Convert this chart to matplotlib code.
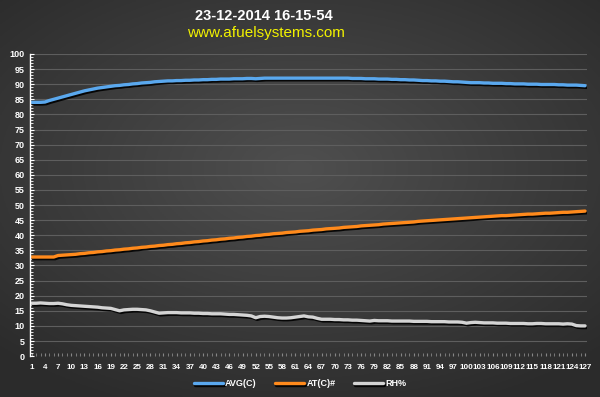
import numpy as np
import matplotlib
matplotlib.use("Agg")
import matplotlib.pyplot as plt
import matplotlib.patheffects as pe
from matplotlib.ticker import MultipleLocator

title_text = "23-12-2014 16-15-54"
subtitle_text = "www.afuelsystems.com"
series_names = ["AVG(C)", "AT(C)#", "RH%"]

avg_c = [84.0, 84.0, 84.0, 84.1, 84.6, 85.0, 85.4, 85.8, 86.2, 86.6,
         87.0, 87.4, 87.8, 88.1, 88.4, 88.7, 88.9, 89.1, 89.3, 89.5,
         89.6, 89.8, 89.9, 90.1, 90.2, 90.4, 90.5, 90.6, 90.8, 90.9,
         91.0, 91.1, 91.1, 91.2, 91.2, 91.3, 91.3, 91.4, 91.4, 91.5,
         91.5, 91.6, 91.6, 91.7, 91.7, 91.7, 91.8, 91.8, 91.8, 91.9,
         91.9, 91.8, 91.9, 92.0, 92.0, 92.0, 92.0, 92.0, 92.0, 92.0,
         92.0, 92.0, 92.0, 92.0, 92.0, 92.0, 92.0, 92.0, 92.0, 92.0,
         92.0, 92.0, 92.0, 91.9, 91.9, 91.9, 91.8, 91.8, 91.8, 91.7,
         91.7, 91.7, 91.6, 91.6, 91.5, 91.5, 91.4, 91.4, 91.3, 91.2,
         91.2, 91.1, 91.1, 91.0, 91.0, 90.9, 90.8, 90.8, 90.7, 90.6,
         90.5, 90.5, 90.5, 90.4, 90.4, 90.3, 90.3, 90.3, 90.2, 90.2,
         90.1, 90.1, 90.1, 90.0, 90.0, 90.0, 89.9, 89.9, 89.9, 89.9,
         89.8, 89.8, 89.7, 89.7, 89.7, 89.6, 89.5]

at_c = [32.8, 32.8, 32.8, 32.8, 32.8, 32.8, 33.3, 33.4, 33.5, 33.6,
        33.7, 33.9, 34.0, 34.2, 34.3, 34.5, 34.6, 34.8, 34.9, 35.1,
        35.2, 35.4, 35.5, 35.7, 35.8, 36.0, 36.1, 36.3, 36.4, 36.6,
        36.7, 36.9, 37.0, 37.2, 37.3, 37.5, 37.6, 37.8, 37.9, 38.1,
        38.2, 38.4, 38.5, 38.7, 38.8, 39.0, 39.1, 39.3, 39.4, 39.6,
        39.7, 39.9, 40.0, 40.2, 40.3, 40.5, 40.6, 40.7, 40.9, 41.0,
        41.1, 41.3, 41.4, 41.5, 41.7, 41.8, 41.9, 42.1, 42.2, 42.3,
        42.4, 42.6, 42.7, 42.8, 42.9, 43.1, 43.2, 43.3, 43.4, 43.5,
        43.7, 43.8, 43.9, 44.0, 44.1, 44.2, 44.3, 44.4, 44.6, 44.7,
        44.8, 44.9, 45.0, 45.1, 45.2, 45.3, 45.4, 45.5, 45.6, 45.7,
        45.8, 45.9, 46.0, 46.1, 46.2, 46.3, 46.4, 46.5, 46.5, 46.6,
        46.7, 46.8, 46.9, 47.0, 47.0, 47.1, 47.2, 47.3, 47.3, 47.4,
        47.5, 47.6, 47.6, 47.7, 47.8, 47.9, 48.0]

rh = [17.5, 17.5, 17.6, 17.5, 17.4, 17.4, 17.5, 17.3, 17.0, 16.8,
      16.7, 16.6, 16.5, 16.4, 16.3, 16.2, 16.0, 15.9, 15.8, 15.4,
      15.0, 15.3, 15.4, 15.5, 15.5, 15.4, 15.3, 15.0, 14.6, 14.2,
      14.3, 14.4, 14.4, 14.4, 14.3, 14.3, 14.3, 14.2, 14.2, 14.1,
      14.1, 14.0, 14.0, 14.0, 13.9, 13.8, 13.8, 13.7, 13.6, 13.5,
      13.3, 12.7, 13.1, 13.2, 13.1, 12.9, 12.7, 12.6, 12.6, 12.7,
      12.9, 13.1, 13.3, 13.0, 12.9, 12.5, 12.2, 12.2, 12.2, 12.1,
      12.1, 12.0, 12.0, 11.9, 11.9, 11.8, 11.7, 11.6, 11.8, 11.7,
      11.7, 11.7, 11.6, 11.6, 11.6, 11.6, 11.6, 11.5, 11.5, 11.5,
      11.5, 11.4, 11.4, 11.4, 11.4, 11.3, 11.3, 11.3, 11.2, 10.9,
      11.1, 11.2, 11.1, 11.0, 11.0, 11.0, 10.9, 10.9, 10.9, 10.8,
      10.8, 10.8, 10.8, 10.7, 10.7, 10.8, 10.8, 10.7, 10.7, 10.7,
      10.7, 10.6, 10.7, 10.6, 10.1, 10.0, 10.0]

x_vals = list(range(1, len(avg_c) + 1))
x_tick_labels = [str(v) for v in range(1, 128, 3)]
y_ticks = list(range(0, 101, 5))

colors = ["#5aa8ee", "#ff8a1c", "#d4d4d4"]

fig = plt.figure(figsize=(6.0, 3.97), dpi=100)

# background gradient
bg = fig.add_axes([0, 0, 1, 1], zorder=-10)
gx, gy = np.meshgrid(np.linspace(-1, 1, 300), np.linspace(-1, 1, 200))
r = np.sqrt((gx / 1.1) ** 2 + ((gy + 0.15) / 1.0) ** 2)
val = 0.31 - 0.14 * np.clip(r, 0, 1.3) / 1.3
img = np.dstack([val, val, val])
bg.imshow(img, aspect="auto", extent=[0, 1, 0, 1], origin="upper")
bg.set_axis_off()

ax = fig.add_axes([0.05, 0.103, 0.928, 0.761])
ax.patch.set_alpha(0)

data = [avg_c, at_c, rh]
for vals, c, name in zip(data, colors, series_names):
    ax.plot(x_vals, vals, color=c, lw=2.4, label=name, solid_capstyle="round",
            path_effects=[pe.SimpleLineShadow(offset=(1, -1.2), shadow_color="black", alpha=0.9),
                          pe.Normal()])

ax.set_xlim(0.6, 127.4)
ax.set_ylim(0, 100)
ax.set_yticks(y_ticks)
ax.yaxis.set_minor_locator(MultipleLocator(1))
ax.set_xticks(list(range(1, 128, 3)))
ax.set_xticklabels(x_tick_labels)
ax.xaxis.set_minor_locator(MultipleLocator(1))
ax.grid(axis="y", which="major", color="#5e5e5e", lw=0.8)
ax.set_axisbelow(True)

for s in ["top", "right", "bottom"]:
    ax.spines[s].set_visible(False)
ax.spines["left"].set_color("white")
ax.spines["left"].set_linewidth(1.0)

font = ["Liberation Sans", "DejaVu Sans"]
ax.tick_params(axis="y", which="major", direction="in", length=3, color="white",
               labelcolor="white", labelsize=6.5, pad=4)
ax.tick_params(axis="y", which="minor", direction="in", length=2, color="white")
ax.tick_params(axis="x", which="major", direction="in", length=2, color="#888888",
               labelcolor="white", labelsize=5.8, pad=6)
ax.tick_params(axis="x", which="minor", direction="in", length=2, color="#888888")
for lab in ax.get_xticklabels() + ax.get_yticklabels():
    lab.set_fontweight("bold")
    lab.set_family(font)

fig.text(0.44, 0.96, title_text, ha="center", va="center", color="white",
         fontsize=10.5, fontweight="bold", family=font)
fig.text(0.443, 0.918, subtitle_text, ha="center", va="center", color="#f2f200",
         fontsize=11, family=font)

leg = fig.legend(loc="center", bbox_to_anchor=(0.5, 0.033), ncol=3, frameon=False,
                 fontsize=6.5, handlelength=3.2, columnspacing=2.0, handletextpad=0.3)
for t in leg.get_texts():
    t.set_color("white")
    t.set_fontweight("bold")
    t.set_family(font)

fig.savefig("out.png", dpi=100)
